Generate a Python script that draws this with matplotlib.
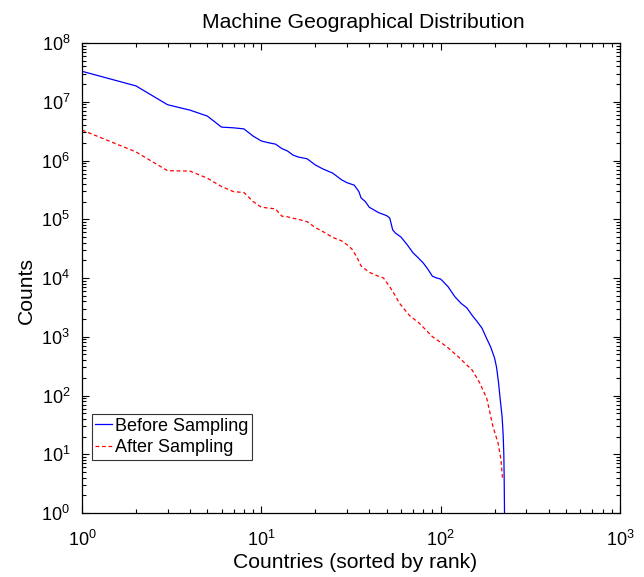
import matplotlib
matplotlib.use("Agg")
import matplotlib.pyplot as plt
from matplotlib.ticker import LogLocator, NullFormatter

plt.rcParams["font.family"] = ["Liberation Sans", "DejaVu Sans"]
plt.rcParams["mathtext.fontset"] = "custom"
plt.rcParams["mathtext.rm"] = "Liberation Sans"
plt.rcParams["mathtext.it"] = "Liberation Sans"
plt.rcParams["mathtext.default"] = "regular"

# Machine counts per country, sorted by rank
before_rank = [1, 2, 3, 4, 5, 6, 7, 8, 9, 10, 11, 12, 13, 14, 15, 16, 18, 20,
               22, 25, 28, 30, 33, 35, 36, 38, 40, 45, 50, 52, 54, 56, 60, 65,
               70, 75, 80, 85, 90, 95, 100, 110, 120, 130, 140, 150, 160, 170,
               180, 190, 200, 205, 210, 215, 220, 223, 225, 226, 227]
before_counts = [3.3e7, 1.86e7, 8.9e6, 7.2e6, 5.7e6, 3.7e6, 3.6e6, 3.45e6,
                 2.6e6, 2.15e6, 2.0e6, 1.9e6, 1.6e6, 1.45e6, 1.24e6, 1.15e6,
                 1.07e6, 8.4e5, 7.2e5, 6.1e5, 4.7e5, 4.2e5, 3.8e5, 2.95e5,
                 2.3e5, 2.0e5, 1.6e5, 1.3e5, 1.15e5, 1.05e5, 6.6e4, 5.8e4,
                 5.0e4, 3.7e4, 2.7e4, 2.2e4, 1.8e4, 1.4e4, 1.07e4, 1.0e4,
                 9.6e3, 7.1e3, 4.8e3, 3.7e3, 3.1e3, 2.3e3, 1.8e3, 1.4e3, 950,
                 670, 430, 300, 170, 84, 44, 22, 10, 4, 1]

after_rank = [1, 2, 3, 4, 5, 6, 7, 8, 9, 10, 11, 12, 13, 14, 15, 16, 18, 20,
              22, 25, 28, 30, 32, 34, 36, 40, 44, 48, 52, 55, 59, 67, 76, 90,
              108, 127, 150, 165, 181, 196, 209, 217, 221]
after_counts = [3.3e6, 1.4e6, 6.7e5, 6.6e5, 5.0e5, 3.6e5, 2.95e5, 2.85e5,
                2.0e5, 1.6e5, 1.55e5, 1.5e5, 1.13e5, 1.1e5, 1.04e5, 1.0e5,
                9.1e4, 7.2e4, 6.2e4, 4.9e4, 4.3e4, 3.7e4, 3.1e4, 2.3e4, 1.6e4,
                1.25e4, 1.1e4, 1.0e4, 7.1e3, 5.4e3, 3.7e3, 2.3e3, 1.7e3, 1.0e3,
                680, 440, 270, 165, 88, 29, 15.5, 8, 4]

W, H = 644, 577
fig = plt.figure(figsize=(W / 100, H / 100), dpi=100)
ax = fig.add_axes([82 / W, (H - 513) / H, 538 / W, 470 / H])

ax.loglog(before_rank, before_counts, color="#0000ff", lw=0.9,
          label="Before Sampling")
ax.loglog(after_rank, after_counts, color="#ff0000", lw=0.9,
          dashes=(3, 2.2), label="After Sampling")

ax.set_xlim(1, 1e3)
ax.set_ylim(1, 1e8)
ax.xaxis.set_major_locator(LogLocator(base=10, numticks=10))
ax.yaxis.set_major_locator(LogLocator(base=10, numticks=12))
ax.xaxis.set_minor_locator(LogLocator(base=10, subs=range(2, 10), numticks=20))
ax.yaxis.set_minor_locator(LogLocator(base=10, subs=range(2, 10), numticks=20))
ax.xaxis.set_minor_formatter(NullFormatter())
ax.yaxis.set_minor_formatter(NullFormatter())

ax.tick_params(which="both", direction="in", top=True, right=True,
               labelsize=13, width=0.8)
ax.tick_params(which="major", length=5)
ax.tick_params(which="minor", length=2.8)
ax.tick_params(axis="x", pad=12)
ax.tick_params(axis="y", pad=8.5)
for s in ax.spines.values():
    s.set_linewidth(0.9)

fig.text(363 / W, 1 - 27.5 / H, "Machine Geographical Distribution",
         fontsize=15.2, ha="center", va="baseline")
ax.set_xlabel("Countries (sorted by rank)", fontsize=15.2)
ax.xaxis.set_label_coords((355 - 82) / 538, (513 - 553) / 470)
ax.xaxis.label.set_va("top")
ax.set_ylabel("Counts", fontsize=15.2)
ax.yaxis.set_label_coords((36 - 82) / 538, (513 - 290) / 470)

leg = ax.legend(loc="lower left", bbox_to_anchor=(0.018, 0.113),
                fontsize=13, frameon=True, fancybox=False, handlelength=0.95,
                handletextpad=0.15, borderpad=0.2, labelspacing=0.25,
                borderaxespad=0)
leg.get_frame().set_edgecolor("black")
leg.get_frame().set_linewidth(0.8)

fig.savefig("out.png", dpi=100)
